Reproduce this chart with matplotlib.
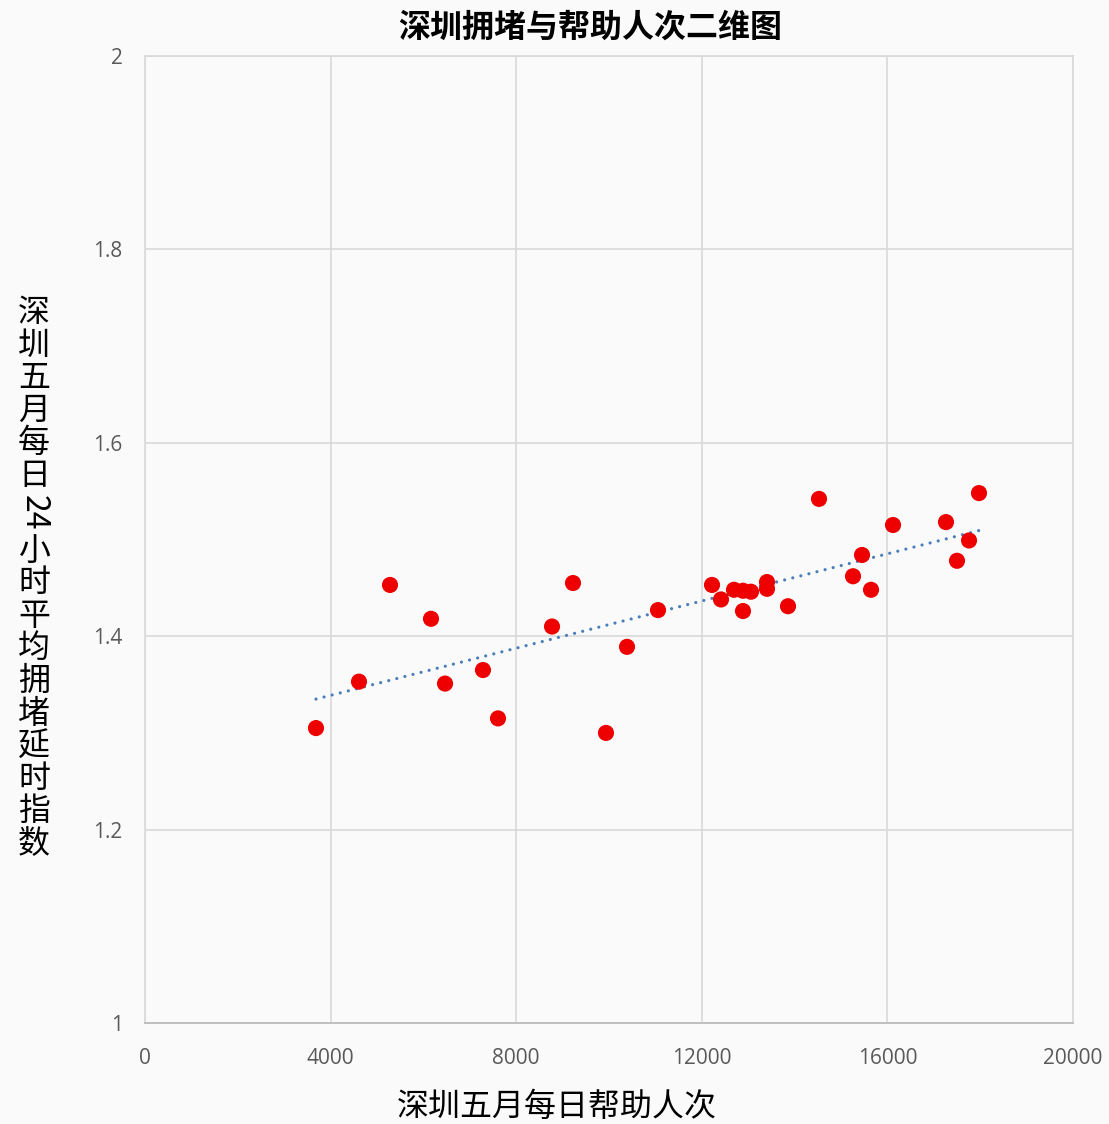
import numpy as np
import matplotlib
matplotlib.use("Agg")
import matplotlib.pyplot as plt

plt.rcParams['font.family'] = ['Noto Sans CJK SC', 'DejaVu Sans']

# daily number of help requests in May (Shenzhen) and 24h average congestion index
help_counts = [3685, 4612, 5280, 6164, 6466, 7284, 7608, 8772, 9224, 9935,
               10388, 11056, 12220, 12414, 12694, 12888, 12888, 13060, 13405, 13405,
               13858, 14526, 15259, 15453, 15647, 16121, 17263, 17500, 17759, 17974]
congestion = [1.305, 1.353, 1.453, 1.418, 1.351, 1.365, 1.315, 1.410, 1.455, 1.300,
              1.389, 1.427, 1.453, 1.438, 1.448, 1.447, 1.426, 1.446, 1.456, 1.449,
              1.431, 1.542, 1.462, 1.484, 1.448, 1.515, 1.518, 1.478, 1.499, 1.548]

x_ticks = [0, 4000, 8000, 12000, 16000, 20000]
y_ticks = [1, 1.2, 1.4, 1.6, 1.8, 2]
y_tick_labels = ["1", "1.2", "1.4", "1.6", "1.8", "2"]

title = "深圳拥堵与帮助人次二维图"
x_label = "深圳五月每日帮助人次"
y_label_parts = ["深圳五月每日", "24", "小时平均拥堵延时指数"]

W, H = 1109, 1124
bg = "#fafafa"
fig = plt.figure(figsize=(W / 100, H / 100), dpi=100, facecolor=bg)
ax = fig.add_axes([145 / W, 1 - 1023 / H, (1073 - 145) / W, (1023 - 56) / H], facecolor=bg)

x = np.array(help_counts)
y = np.array(congestion)

# linear trend line
k, b = np.polyfit(x, y, 1)
xs = np.linspace(x.min(), x.max(), 50)
ax.plot(xs, k * xs + b, color="#4a7ebb", lw=2.3, linestyle=(0, (0.01, 2.6)),
        dash_capstyle="round", zorder=3)

ax.scatter(x, y, s=135, color="#ee0000", edgecolors="none", zorder=4)

ax.set_xlim(0, 20000)
ax.set_ylim(1, 2)
ax.set_xticks(x_ticks)
ax.set_yticks(y_ticks)
ax.set_yticklabels(y_tick_labels)
ax.tick_params(length=0, labelsize=15, colors="#595959")
ax.tick_params(axis="x", pad=18)
ax.tick_params(axis="y", pad=16)
for lab in ax.get_xticklabels() + ax.get_yticklabels():
    lab.set_fontfamily("Open Sans")

ax.grid(True, color="#d9d9d9", lw=1.2)
ax.set_axisbelow(True)
for side in ["top", "right", "left"]:
    ax.spines[side].set_color("#d9d9d9")
    ax.spines[side].set_linewidth(1.2)
ax.spines["bottom"].set_color("#bfbfbf")
ax.spines["bottom"].set_linewidth(1.4)

fig.text(590 / W, 1 - 28 / H, title, ha="center", va="center",
         fontsize=23, fontweight="bold")
fig.text(557 / W, 1 - 1107 / H, x_label, ha="center", va="center", fontsize=23)

# vertical y label: upright CJK characters, digits turned sideways
ypix = 297
for part in y_label_parts:
    if part.isdigit():
        fig.text(34 / W, 1 - (ypix + 20) / H, part, rotation=-90, ha="center",
                 va="center", fontsize=23)
        ypix += 42
    else:
        for ch in part:
            fig.text(34 / W, 1 - (ypix + 16) / H, ch, ha="center", va="center",
                     fontsize=23)
            ypix += 32.6

fig.savefig("out.png", dpi=100, facecolor=bg)
